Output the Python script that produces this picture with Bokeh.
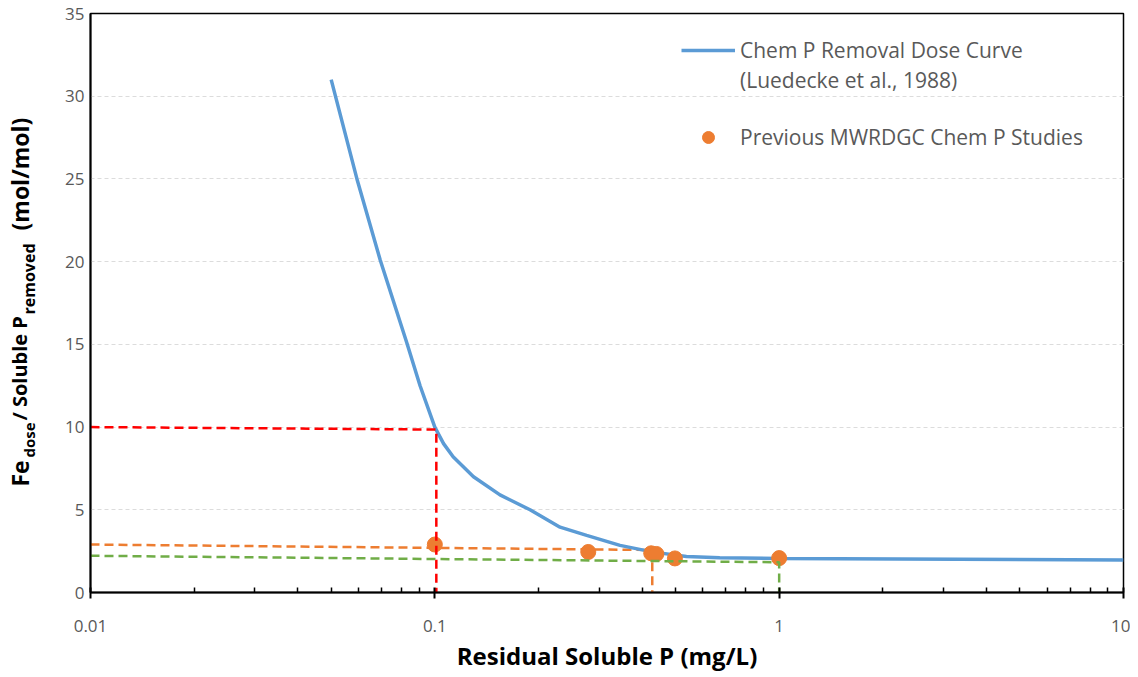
import math
from bokeh.plotting import figure
from bokeh.layouts import row
from bokeh.models import (Range1d, FixedTicker, Label, Legend, LegendItem, Title)
from bokeh.embed import file_html
from bokeh.resources import INLINE

# ---- data ----
curve_x = [0.05, 0.0594, 0.0694, 0.0829, 0.0906, 0.1, 0.106, 0.113, 0.1295, 0.1546,
           0.189, 0.231, 0.276, 0.345, 0.431, 0.538, 0.672, 1.0, 10.0]
curve_y = [31.0, 25.0, 20.1, 15.1, 12.5, 10.0, 9.0, 8.2, 7.0, 5.9,
           5.0, 3.95, 3.45, 2.85, 2.44, 2.18, 2.1, 2.06, 1.97]

study_x = [0.1, 0.279, 0.425, 0.44, 0.498, 1.0]
study_y = [2.9, 2.45, 2.37, 2.33, 2.06, 2.08]

red_x = [0.01, 0.101, 0.101]
red_y = [10.0, 9.85, 0.0]
orange_x = [0.01, 0.428, 0.428]
orange_y = [2.9, 2.57, 0.0]
green_x = [0.01, 1.0, 1.0]
green_y = [2.22, 1.83, 0.0]

x_ticks = [0.01, 0.1, 1, 10]
x_tick_labels = ["0.01", "0.1", "1", "10"]
x_minor = [0.02, 0.03, 0.04, 0.05, 0.06, 0.07, 0.08, 0.09,
           0.2, 0.3, 0.4, 0.5, 0.6, 0.7, 0.8, 0.9,
           2, 3, 4, 5, 6, 7, 8, 9]
y_ticks = [0, 5, 10, 15, 20, 25, 30, 35]

curve_label_1 = "Chem P Removal Dose Curve"
curve_label_2 = "(Luedecke et al., 1988)"
study_label = "Previous MWRDGC Chem P Studies"
x_title = "Residual Soluble P (mg/L)"

BLUE = "#5b9bd5"
ORANGE = "#ed7d31"
GREEN = "#70ad47"
RED = "#ff0000"
FONT = "Open Sans"

H = 677
LW = 45          # width of the y-title strip
MW = 1130 - LW   # main figure width
FRAME_BOTTOM = 592

p = figure(width=MW, height=H, x_axis_type="log",
           x_range=Range1d(0.01, 10), y_range=Range1d(0, 35),
           output_backend="svg", toolbar_location=None,
           min_border_left=90 - LW, min_border_right=7, min_border_top=13,
           min_border_bottom=H - FRAME_BOTTOM)
p.outline_line_color = "black"
p.outline_line_width = 1.5
p.background_fill_color = "white"

# axes
xa = p.xaxis[0]
xa.ticker = FixedTicker(ticks=x_ticks, minor_ticks=x_minor)
xa.major_label_overrides = {t: l for t, l in zip(x_ticks, x_tick_labels)}
xa.axis_line_color = "black"
xa.axis_line_width = 2
xa.major_tick_line_color = "black"
xa.major_tick_line_width = 2
xa.major_tick_in = 5
xa.major_tick_out = 6
xa.minor_tick_line_color = "black"
xa.minor_tick_line_width = 1.5
xa.minor_tick_in = 5
xa.minor_tick_out = 0
xa.major_label_standoff = 21
xa.major_label_text_font = FONT
xa.major_label_text_font_size = "17px"
xa.major_label_text_color = "#595959"

ya = p.yaxis[0]
ya.ticker = FixedTicker(ticks=y_ticks)
ya.axis_line_color = "black"
ya.axis_line_width = 2
ya.major_tick_line_color = None
ya.minor_tick_line_color = None
ya.major_tick_in = 0
ya.major_tick_out = 0
ya.major_label_standoff = 6
ya.major_label_text_font = FONT
ya.major_label_text_font_size = "17px"
ya.major_label_text_color = "#595959"

p.xgrid.visible = False
p.ygrid.ticker = FixedTicker(ticks=y_ticks)
p.ygrid.grid_line_color = "#dcdcdc"
p.ygrid.grid_line_dash = "4 3"
p.ygrid.grid_line_width = 1

# marks
p.line(orange_x, orange_y, line_color=ORANGE, line_width=2.5, line_dash="9 5")
curve = p.line(curve_x, curve_y, line_color=BLUE, line_width=3.5)
dummy = p.line([], [], line_alpha=0)
pts = p.scatter(study_x, study_y, size=15, fill_color=ORANGE, line_color=ORANGE)
p.line(red_x, red_y, line_color=RED, line_width=2.5, line_dash="9 5")
p.line(green_x, green_y, line_color=GREEN, line_width=2.5, line_dash="9 5")

# legends
def style_legend(lg):
    lg.background_fill_alpha = 0
    lg.border_line_alpha = 0
    lg.padding = 0
    lg.margin = 0
    lg.spacing = 0
    lg.glyph_width = 54
    lg.glyph_height = 30
    lg.label_height = 30
    lg.label_standoff = 5
    lg.label_text_font = FONT
    lg.label_text_font_size = "21px"
    lg.label_text_color = "#595959"

lg1 = Legend(items=[LegendItem(label=curve_label_1, renderers=[curve]),
                    LegendItem(label=curve_label_2, renderers=[dummy])],
             location=(591, 497))
style_legend(lg1)
lg2 = Legend(items=[LegendItem(label=study_label, renderers=[pts])],
             location=(591, 440))
style_legend(lg2)
p.add_layout(lg1, "center")
p.add_layout(lg2, "center")

# x-axis title
p.add_layout(Title(text=x_title, align="center", offset=6, standoff=4,
                   text_font=FONT, text_font_style="bold",
                   text_font_size="24px", text_color="black"), "below")

# y-axis title strip (with subscripts); its frame is aligned with the main frame
yt = figure(width=LW, height=H, output_backend="svg", toolbar_location=None,
            x_range=Range1d(0, 1), y_range=Range1d(0, 1), min_border=0,
            min_border_top=13, min_border_bottom=H - FRAME_BOTTOM)
yt.axis.visible = False
yt.grid.visible = False
yt.outline_line_color = None

title_parts = [
    ("Fe", 486, 19, "23px"),
    ("dose", 457, 28, "15px"),
    ("/ Soluble P", 420, 19, "20px"),
    ("removed", 314, 28, "16px"),
    ("(mol/mol)", 230, 19, "23px"),
]
for txt, py, px, fs in title_parts:
    yt.add_layout(Label(x=px, y=FRAME_BOTTOM - py, x_units="screen", y_units="screen",
                        text=txt, angle=math.pi / 2, text_align="left",
                        text_baseline="alphabetic", text_font=FONT,
                        text_font_style="bold", text_font_size=fs,
                        text_color="black"))

layout = row(yt, p)
open("out.html", "w").write(file_html(layout, INLINE))
